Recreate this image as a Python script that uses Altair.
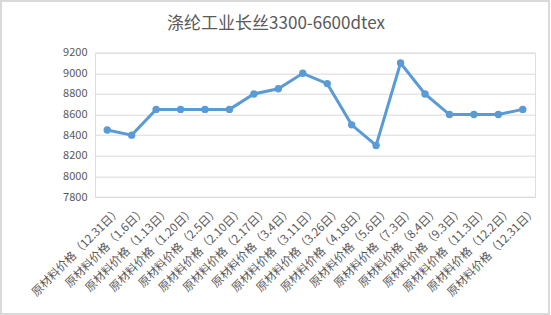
import altair as alt
import pandas as pd

dates = ["12.31日", "1.6日", "1.13日", "1.20日", "2.5日", "2.10日", "2.17日", "3.4日", "3.11日",
         "3.26日", "4.18日", "5.6日", "7.3日", "8.4日", "9.3日", "11.3日", "12.2日", "12.31日"]
categories = [f"原材料价格（{d}）" for d in dates]
values = [8450, 8400, 8650, 8650, 8650, 8650, 8800, 8850, 9000,
          8900, 8500, 8300, 9100, 8800, 8600, 8600, 8600, 8650]
title_text = "涤纶工业长丝3300-6600dtex"
order = list(range(len(categories)))

df = pd.DataFrame({"cat": categories, "value": values, "idx": order})
df["key"] = [f"{i:02d}|{c}" for i, c in zip(order, categories)]

FONT = "Noto Sans CJK SC"
GRAY = "#595959"
BLUE = "#5B9BD5"

x = alt.X("key:N", sort=None, title=None,
          scale=alt.Scale(paddingInner=1, paddingOuter=0.5),
          axis=alt.Axis(labelAngle=-45, labelFont=FONT, labelFontSize=11.5, labelColor=GRAY,
                        labelExpr="split(datum.value, '|')[1]", ticks=False, domain=False,
                        labelPadding=12, labelOffset=12, labelBaseline="middle", labelAlign="right",
                        labelLimit=0))
y = alt.Y("value:Q", title=None,
          scale=alt.Scale(domain=[7800, 9200], nice=False, zero=False),
          axis=alt.Axis(values=[7800, 8000, 8200, 8400, 8600, 8800, 9000, 9200], format="d",
                        labelFont=FONT, labelFontSize=11, labelColor=GRAY, domain=False, ticks=False,
                        labelPadding=8, gridColor="#D9D9D9", gridWidth=1))

line = alt.Chart(df).mark_line(color=BLUE, strokeWidth=3).encode(x=x, y=y)
pts = alt.Chart(df).mark_point(color=BLUE, filled=True, opacity=1, size=55).encode(x=x, y=y)

title = alt.Chart(pd.DataFrame({"t": [title_text]})).mark_text(
    font=FONT, fontSize=17, color=GRAY, align="center", baseline="middle").encode(
    text="t:N", x=alt.value(181), y=alt.value(-29))

border = alt.Chart(df).mark_rect(fill=None, stroke="#D9D9D9", strokeWidth=1.5, clip=False).encode(
    x=alt.value(-94), x2=alt.value(454), y=alt.value(-51.7), y2=alt.value(261.3))

chart = alt.layer(line, pts, title, border).properties(
    width=440, height=144.3,
    autosize=alt.AutoSizeParams(type="none"),
    padding={"left": 95, "top": 52.7, "right": 16, "bottom": 118},
).configure_view(stroke=None).configure(background="white")

chart.save("out.html", embed_options={"renderer": "svg", "actions": False})
